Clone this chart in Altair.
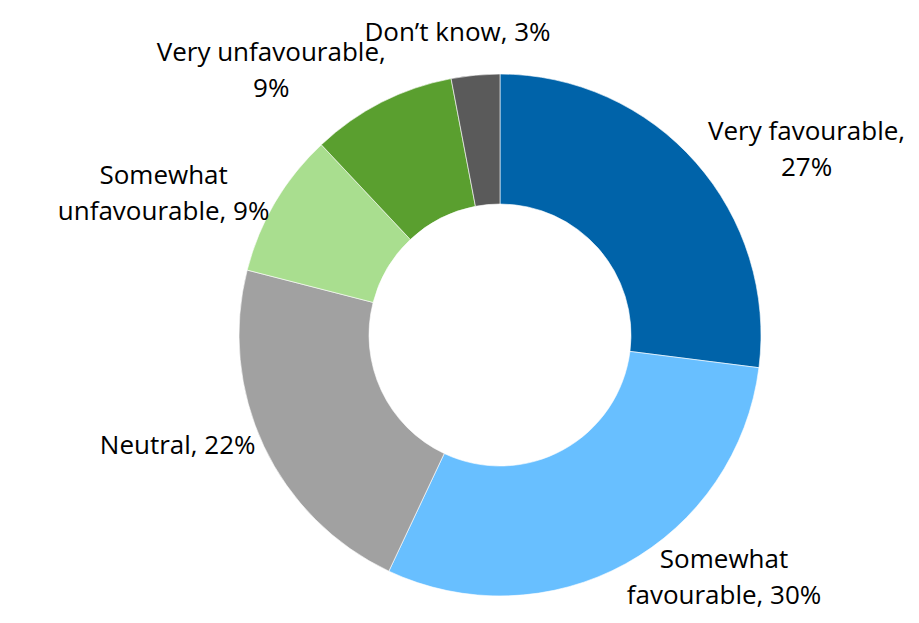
import altair as alt
import pandas as pd

categories = ["Very favourable", "Somewhat favourable", "Neutral",
              "Somewhat unfavourable", "Very unfavourable", "Don’t know"]
values = [27, 30, 22, 9, 9, 3]
labels = ["Very favourable,\n27%", "Somewhat\nfavourable, 30%", "Neutral, 22%",
          "Somewhat\nunfavourable, 9%", "Very unfavourable,\n9%", "Don’t know, 3%"]
colors = ["#0063A9", "#68BFFF", "#A1A1A1", "#A9DE8F", "#5A9F2F", "#5A5A5A"]

# layout constants
W, H = 903, 607
CX, CY = 492, 327
R_IN, R_OUT = 131, 261
R_LABEL_X = 270
R_LABEL_Y = 245
CHAR_W = 13.0
HALF_LINE = 16
LINE_H = 36
TOP_PUSH = 44

df = pd.DataFrame({
    "order": list(range(len(categories))),
    "category": categories,
    "value": values,
    "label": labels,
})
df["hw"] = [0.5 * max(len(s) for s in l.split("\n")) * CHAR_W for l in labels]
df["hh"] = [len(l.split("\n")) * HALF_LINE for l in labels]
df["lift"] = [(len(l.split("\n")) - 1) * LINE_H / 2 for l in labels]

base = alt.Chart(df)

arcs = base.mark_arc(innerRadius=R_IN, outerRadius=R_OUT, stroke="white", strokeWidth=0.6).encode(
    theta=alt.Theta("value:Q", stack=True),
    color=alt.Color("category:N", scale=alt.Scale(domain=categories, range=colors), legend=None),
    order=alt.Order("order:Q"),
    x=alt.value(CX),
    y=alt.value(CY),
)

text = base.transform_joinaggregate(
    total="sum(value)"
).transform_window(
    cum="sum(value)", sort=[alt.SortField("order")], frame=[None, 0]
).transform_calculate(
    mid="2*PI*(datum.cum - datum.value/2)/datum.total"
).transform_calculate(
    lx=f"{CX} + {R_LABEL_X}*sin(datum.mid) + datum.hw*clamp(2*sin(datum.mid),-1,1)",
    ly=(f"{CY} - ({R_LABEL_Y} + datum.hh)*cos(datum.mid) - datum.lift"
        f" - {TOP_PUSH}*pow(max(cos(datum.mid),0),8)"),
).mark_text(
    font="Open Sans", fontSize=26, lineBreak="\n", lineHeight=LINE_H,
    align="center", baseline="middle", color="black"
).encode(
    x=alt.X("lx:Q", scale=None, axis=None),
    y=alt.Y("ly:Q", scale=None, axis=None),
    text="label:N",
)

chart = alt.layer(arcs, text).properties(
    width=W, height=H, padding=0, autosize="none"
).configure_view(stroke=None)

chart.save("out.html", embed_options={"renderer": "svg", "actions": False})
